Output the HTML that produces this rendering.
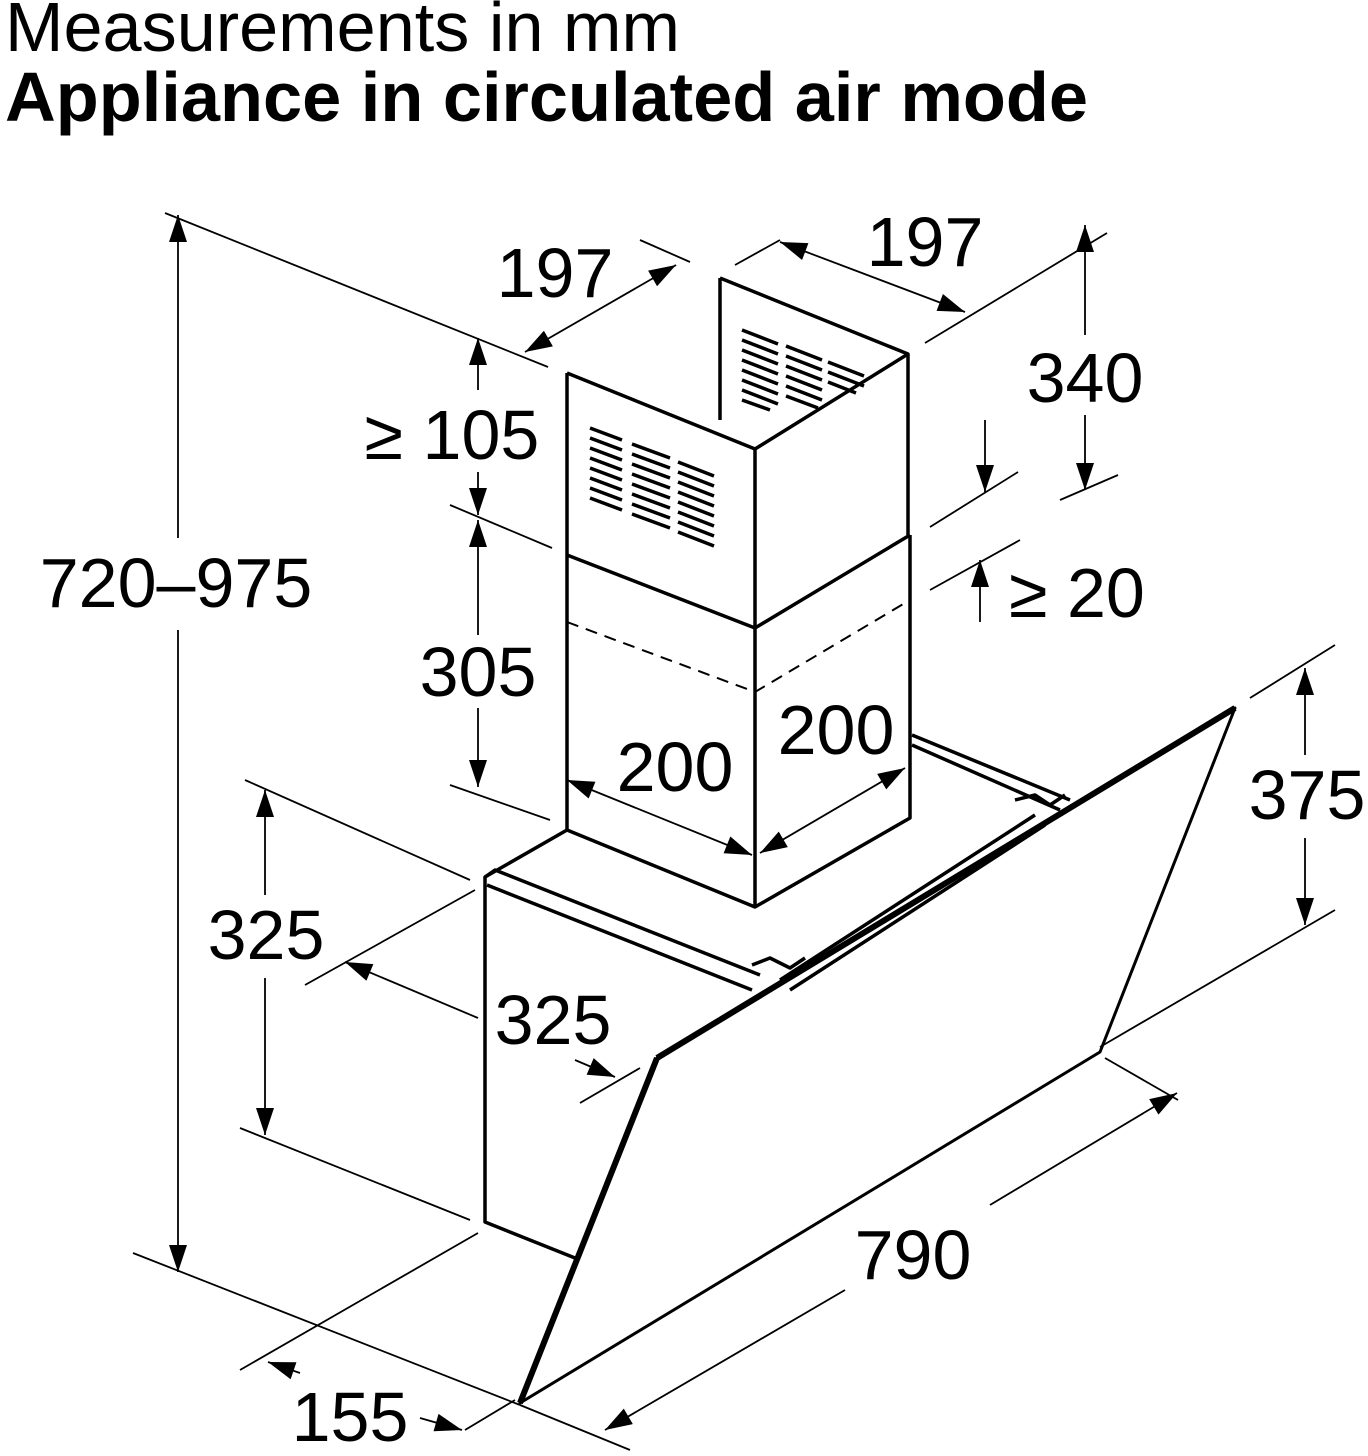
<!DOCTYPE html>
<html><head><meta charset="utf-8"><style>
html,body{margin:0;padding:0;background:#fff;width:1368px;height:1456px;overflow:hidden}
svg{display:block}
text{font-family:"Liberation Sans",sans-serif;fill:#000}
</style></head><body>
<svg width="1368" height="1456" viewBox="0 0 1368 1456" xmlns="http://www.w3.org/2000/svg">
<defs>
<marker id="a" viewBox="0 0 30 20" refX="30" refY="10" markerWidth="30" markerHeight="18" markerUnits="userSpaceOnUse" orient="auto-start-reverse"><path d="M0,0 L30,10 L0,20 Z" fill="#000"/></marker>
</defs>
<text x="5" y="51" font-size="70" textLength="675" lengthAdjust="spacingAndGlyphs">Measurements in mm</text>
<text x="5" y="121" font-size="70" font-weight="bold" textLength="1083" lengthAdjust="spacingAndGlyphs">Appliance in circulated air mode</text>

<g stroke="#000" fill="none" stroke-width="3.5" stroke-linejoin="round">
<path d="M720,278 L908,354 L908,535"/>
<path d="M720,278 L720,420"/>
<path d="M567,373 L755,449 L908,354"/>
<path d="M567,373 L567,555 M755,449 L755,628"/>
<path d="M567,555 L755,628 L910,535"/>
<path d="M567,555 L567,830 L755,907 L910,818 L910,535"/>
<path d="M755,628 L755,907"/>
<path d="M567,830 L485,877 L485,1222 L575,1258"/>
<path d="M485,877 L495,870 L760,975"/>
<path d="M487,885 L752,990"/>
<path d="M912,735 L1070,800 M912,745 L1060,810"/>
<path d="M780,980 L1035,815 M790,990 L1045,825"/>
<path d="M752,965 L770,958 L790,968 L805,958 M1015,800 L1035,795 L1050,805 L1065,795"/>
<path d="M657,1058 L1235,708 L1100,1052 L520,1403 Z" stroke-width="3"/>
<path d="M657,1058 L1235,708" stroke-width="6"/>
<path d="M657,1058 L520,1403" stroke-width="6"/>
</g>
<path d="M567,622 L755,692 L910,600" stroke="#000" stroke-width="2" fill="none" stroke-dasharray="12,8"/>
<g stroke="#000" stroke-width="3.5">
<path d="M590,428 L622,440 M590,438 L622,450 M590,448 L622,460 M590,458 L622,470 M590,468 L622,480 M590,478 L622,490 M590,488 L622,500 M590,498 L622,510"/>
<path d="M632,444 L670,458 M632,454 L670,468 M632,464 L670,478 M632,474 L670,488 M632,484 L670,498 M632,494 L670,508 M632,504 L670,518 M632,514 L670,528"/>
<path d="M678,462 L714,476 M678,472 L714,486 M678,482 L714,496 M678,492 L714,506 M678,502 L714,516 M678,512 L714,526 M678,522 L714,536 M678,532 L714,546"/>
<path d="M742,330 L778,344 M742,340 L778,354 M742,350 L778,364 M742,360 L778,374 M742,370 L778,384 M742,380 L778,394 M742,390 L778,404 M742,400 L770,410"/>
<path d="M786,346 L822,360 M786,356 L822,370 M786,366 L822,380 M786,376 L822,390 M786,386 L822,400 M786,396 L818,408"/>
<path d="M828,362 L864,376 M828,372 L864,386 M828,382 L856,393"/>
</g>

<g stroke="#000" stroke-width="1.8" fill="none">
<path d="M165,213 L548,367 M133,1253 L520,1405"/>
<path d="M178,215 L178,538" marker-start="url(#a)" />
<path d="M178,630 L178,1272" marker-end="url(#a)"/>
<path d="M640,240 L690,262 M735,265 L780,240 M925,343 L1107,233"/>
<path d="M525,352 L676,265" marker-start="url(#a)" marker-end="url(#a)"/>
<path d="M780,242 L965,312" marker-start="url(#a)" marker-end="url(#a)"/>
<path d="M1085,225 L1085,335" marker-start="url(#a)"/>
<path d="M1085,415 L1085,490" marker-end="url(#a)"/>
<path d="M930,527 L1018,472 M1060,500 L1118,475"/>
<path d="M985,420 L985,492" marker-end="url(#a)"/>
<path d="M930,590 L1020,540"/>
<path d="M980,622 L980,560" marker-end="url(#a)"/>
<path d="M478,338 L478,390" marker-start="url(#a)"/>
<path d="M478,472 L478,515" marker-end="url(#a)"/>
<path d="M450,505 L552,548 M450,785 L550,820"/>
<path d="M478,520 L478,635" marker-start="url(#a)"/>
<path d="M478,708 L478,787" marker-end="url(#a)"/>
<path d="M567,780 L752,855" marker-start="url(#a)" marker-end="url(#a)"/>
<path d="M760,853 L905,768" marker-start="url(#a)" marker-end="url(#a)"/>
<path d="M1250,698 L1335,645 M1100,1047 L1335,910"/>
<path d="M1305,668 L1305,755" marker-start="url(#a)"/>
<path d="M1305,838 L1305,925" marker-end="url(#a)"/>
<path d="M245,780 L470,880 M240,1128 L470,1220"/>
<path d="M265,790 L265,895" marker-start="url(#a)"/>
<path d="M265,978 L265,1135" marker-end="url(#a)"/>
<path d="M305,985 L475,890 M580,1103 L640,1068"/>
<path d="M345,962 L478,1018" marker-start="url(#a)"/>
<path d="M575,1060 L615,1077" marker-end="url(#a)"/>
<path d="M1105,1058 L1178,1100"/>
<path d="M605,1430 L845,1290" marker-start="url(#a)"/>
<path d="M990,1205 L1177,1093" marker-end="url(#a)"/>
<path d="M520,1405 L630,1450 M240,1370 L478,1233 M465,1430 L515,1400"/>
<path d="M268,1362 L300,1373" marker-start="url(#a)"/>
<path d="M420,1418 L462,1430" marker-end="url(#a)"/>
</g>

<g font-size="70" text-anchor="middle">
<text x="176" y="607">720–975</text>
<text x="555" y="297">197</text>
<text x="925" y="266">197</text>
<text x="1085" y="402">340</text>
<text x="1077" y="617">≥ 20</text>
<text x="452" y="459">≥ 105</text>
<text x="478" y="696">305</text>
<text x="675" y="791">200</text>
<text x="836" y="754">200</text>
<text x="1307" y="819">375</text>
<text x="266" y="959">325</text>
<text x="553" y="1044">325</text>
<text x="913" y="1279">790</text>
<text x="350" y="1441">155</text>
</g>
</svg>
</body></html>
